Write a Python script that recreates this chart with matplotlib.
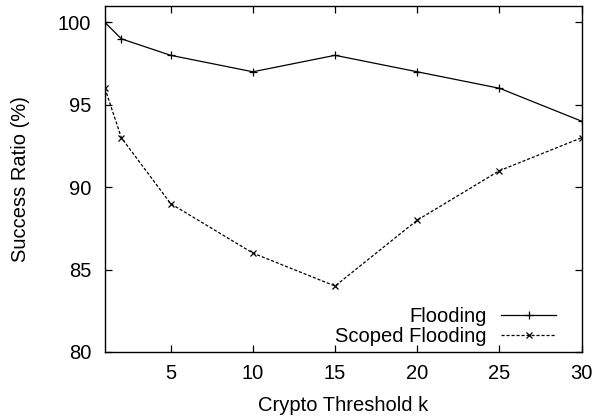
import matplotlib
matplotlib.use("Agg")
import matplotlib.pyplot as plt

plt.rcParams['font.family'] = ['Liberation Sans', 'DejaVu Sans']

k_values = [1, 2, 5, 10, 15, 20, 25, 30]
flooding = [100, 99, 98, 97, 98, 97, 96, 94]
scoped_flooding = [96, 93, 89, 86, 84, 88, 91, 93]
x_ticks = [5, 10, 15, 20, 25, 30]
y_ticks = [80, 85, 90, 95, 100]

FS = 14.5

fig = plt.figure(figsize=(5.96, 4.19), dpi=100)
ax = fig.add_axes([0.176, 0.160, 0.800, 0.826])

ax.plot(k_values, flooding, color='black', linewidth=0.9, marker='+',
        markersize=6, markeredgewidth=0.9, label='Flooding')
ax.plot(k_values, scoped_flooding, color='black', linewidth=0.9, marker='x',
        markersize=5, markeredgewidth=0.9, linestyle=(0, (2.5, 1.5)),
        label='Scoped Flooding')

ax.set_xlim(1, 30)
ax.set_ylim(80, 101)
ax.set_xticks(x_ticks)
ax.set_yticks(y_ticks)
ax.tick_params(direction='in', top=True, right=True, length=5, width=0.9,
               labelsize=FS)
ax.tick_params(axis='y', pad=10)
ax.tick_params(axis='x', pad=9)
for s in ax.spines.values():
    s.set_linewidth(1.0)

ax.set_xlabel('Crypto Threshold k', fontsize=FS, labelpad=9)
ax.set_ylabel('Success Ratio (%)', fontsize=FS, labelpad=20)

ax.legend(loc='lower right', frameon=False, markerfirst=False, fontsize=FS,
          handlelength=2.75, handletextpad=0.7, labelspacing=0.05,
          borderaxespad=0.0, bbox_to_anchor=(0.964, -0.005))

fig.savefig('out.png', dpi=100)
